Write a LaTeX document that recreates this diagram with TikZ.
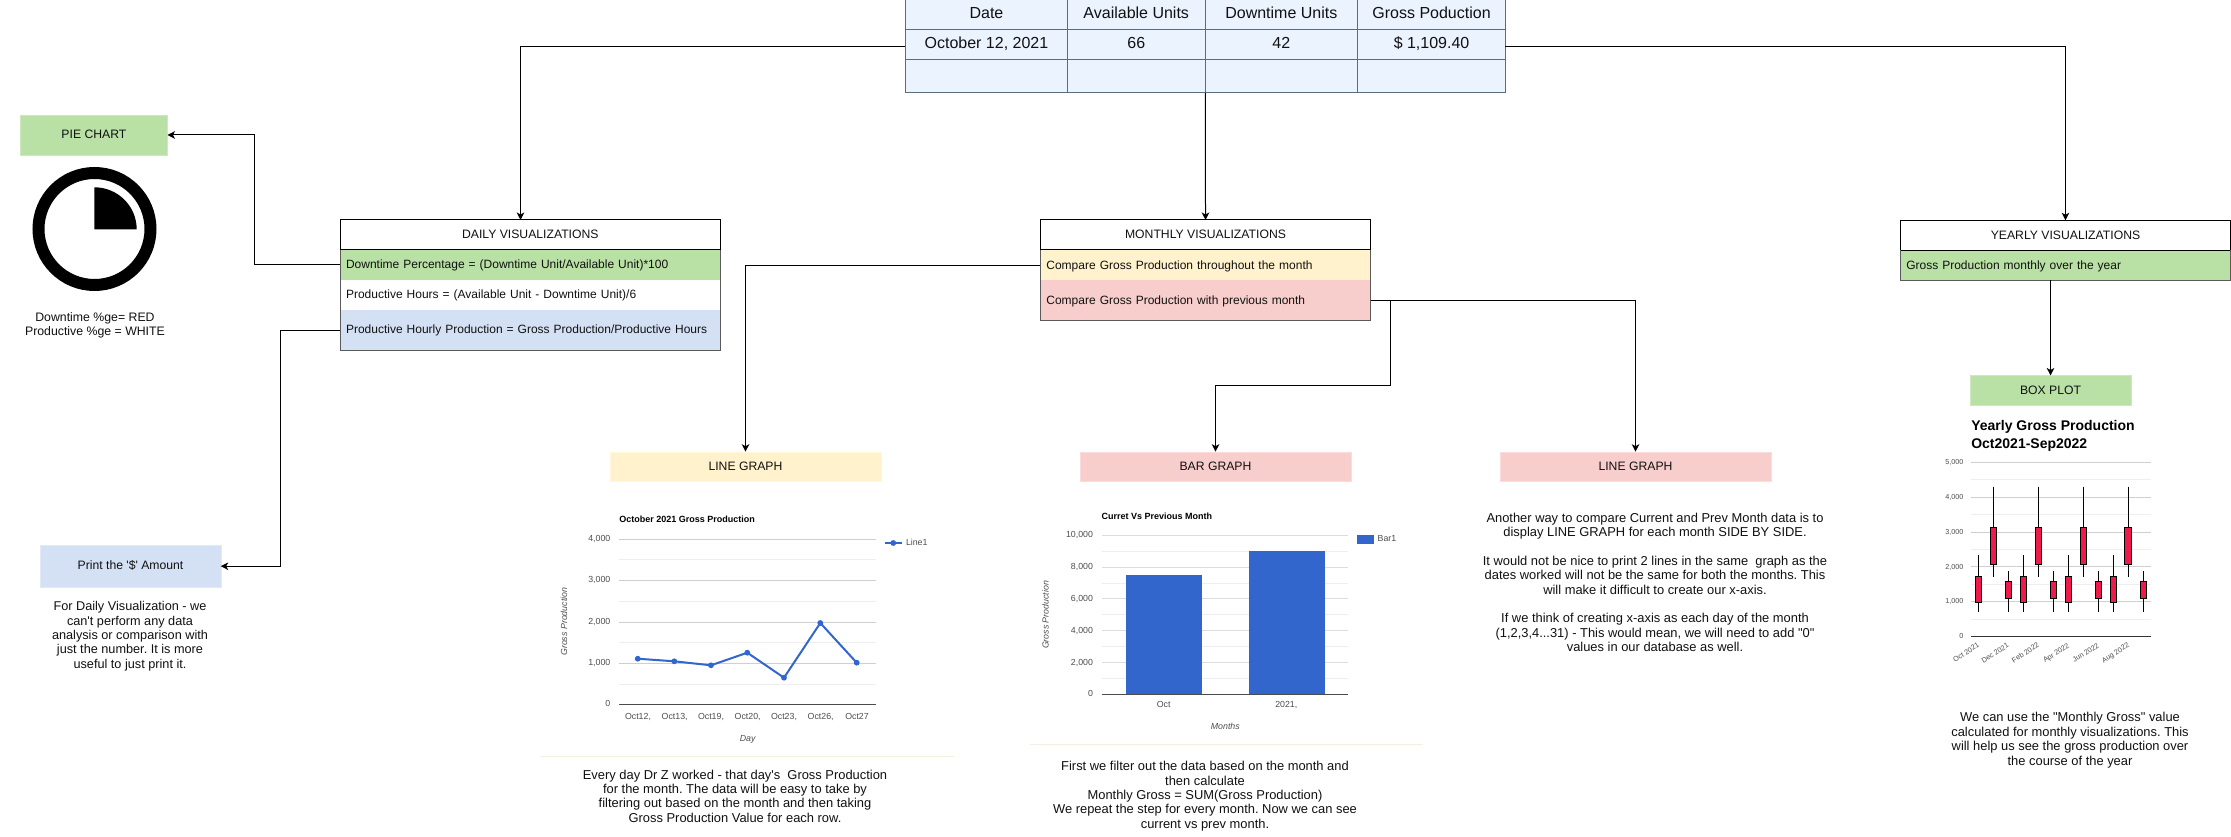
\documentclass[tikz,border=0pt]{standalone}
\usepackage{fontspec}
\setmainfont{Liberation Sans}[Ligatures=TeXOff]
\frenchspacing
\usetikzlibrary{arrows.meta}
\definecolor{txt}{HTML}{111111}
\definecolor{cellfill}{HTML}{EBF3FF}
\definecolor{cellline}{HTML}{5F6B7A}
\definecolor{gfill}{HTML}{B9E0A5}
\definecolor{yfill}{HTML}{FFF2CC}
\definecolor{rfill}{HTML}{F8CECC}
\definecolor{bfill}{HTML}{D4E1F5}
\definecolor{gridmaj}{HTML}{CFCFCF}
\definecolor{gridmin}{HTML}{EEEEEE}
\definecolor{axlab}{HTML}{4D4D4D}
\definecolor{gblue}{HTML}{3366CC}
\definecolor{candle}{HTML}{F01A4A}
\definecolor{sepline}{HTML}{F3F0E2}
\definecolor{rowline}{HTML}{5A5A5A}
\tikzset{
  every node/.style={inner sep=0pt,outer sep=0pt,text=txt},
  onel/.style={text height=0.85em,text depth=0.1em},
  axl/.style={text height=0.72em,text depth=0.2em},
  cell/.style={draw=cellline,fill=cellfill,line width=1pt,font=\fontsize{16}{19}\selectfont,text height=0.9em,text depth=0.1em,align=center},
  labelbox/.style={minimum width=270.4pt,minimum height=29.6pt,font=\fontsize{12.2}{14}\selectfont,onel},
  headbox/.style={draw=black,line width=1pt,fill=white,font=\fontsize{12.2}{14}\selectfont,onel},
  rowbox/.style={font=\fontsize{12}{14}\selectfont,onel,text width=#1,align=left,inner xsep=6pt},
  groupline/.style={draw=rowline,line width=1pt},
  note/.style={align=center,font=\fontsize{#1}{14.4}\selectfont},
  note/.default=12.9,
  conn/.style={draw=black,line width=1pt,-{Stealth[length=7.5pt,width=7.5pt,inset=2pt]}},
  axt/.style={text=axlab,font=\fontsize{8.8}{10}\selectfont,axl},
  axi/.style={text=axlab,font=\fontsize{8.8}{10}\selectfont\itshape,axl},
  cht/.style={font=\fontsize{9}{11}\selectfont\bfseries,anchor=west,axl,text=black},
  boxt/.style={text=axlab,font=\fontsize{7.2}{9}\selectfont,axl},
}
\begin{document}
\begin{tikzpicture}[x=1pt,y=-1pt]
\fill[white] (0,0) rectangle (2231,837);
\useasboundingbox (0,0) rectangle (2231,837);

% ---------- top table
\node[minimum width=600pt,minimum height=93pt] (tbl) at (1205.4,46.5) {};
\foreach \nm/\cx/\w/\aa/\bb in {a/986.45/162.1/Date/{October 12, 2021},b/1136.25/137.5/Available Units/66,c/1281.35/152.7/Downtime Units/42,d/1431.55/147.7/Gross Poduction/{\$ 1,109.40}}{
  \node[cell,minimum width=\w pt,minimum height=30pt] (\nm1) at (\cx,15) {\aa};
  \node[cell,minimum width=\w pt,minimum height=30pt] (\nm2) at (\cx,45) {\bb};
  \node[cell,minimum width=\w pt,minimum height=33pt] (\nm3) at (\cx,76.5) {};
}

% ---------- daily
\node[rowbox=368.6pt,fill=gfill,minimum height=30pt] (drow1) at (530.3,265) {Downtime Percentage = (Downtime Unit/Available Unit)*100};
\node[rowbox=368.6pt,fill=white,minimum height=30pt] (drow2) at (530.3,295) {Productive Hours = (Available Unit - Downtime Unit)/6};
\node[rowbox=368.6pt,fill=bfill,minimum height=40pt] (drow3) at (530.3,330) {Productive Hourly Production = Gross Production/Productive Hours};
\node[headbox,minimum width=380.6pt,minimum height=30pt] (dhead) at (530.3,235) {DAILY VISUALIZATIONS};
\draw[groupline] (dhead.south west) -- (drow3.south west) -- (drow3.south east) -- (dhead.south east);

% ---------- monthly
\node[rowbox=318.2pt,fill=yfill,minimum height=30pt] (mrow1) at (1205.5,265.3) {Compare Gross Production throughout the month};
\node[rowbox=318.2pt,fill=rfill,minimum height=40pt] (mrow2) at (1205.5,300.3) {Compare Gross Production with previous month};
\node[headbox,minimum width=330.2pt,minimum height=30pt] (mhead) at (1205.5,235) {MONTHLY VISUALIZATIONS};
\draw[groupline] (mhead.south west) -- (mrow2.south west) -- (mrow2.south east) -- (mhead.south east);

% ---------- yearly
\node[rowbox=318.4pt,fill=gfill,minimum height=30pt] (yrow) at (2065.5,265.3) {Gross Production monthly over the year};
\node[headbox,minimum width=330.4pt,minimum height=30pt] (yhead) at (2065.5,235.3) {YEARLY VISUALIZATIONS};
\draw[groupline] (yhead.south west) -- (yrow.south west) -- (yrow.south east) -- (yhead.south east);

% ---------- label boxes
\node[labelbox,fill=gfill,draw=gfill!70!white,minimum width=147.2pt,minimum height=40pt] (pie) at (93.9,135) {PIE CHART};
\node[labelbox,fill=bfill,draw=bfill!70!white,minimum width=180.4pt,minimum height=42.3pt] (print) at (130.5,566.2) {Print the '\$' Amount};
\node[labelbox,fill=yfill,draw=yfill!70!white] (lg1) at (745.5,466.5) {LINE GRAPH};
\node[labelbox,fill=rfill,draw=rfill!70!white] (bg) at (1215.5,466.5) {BAR GRAPH};
\node[labelbox,fill=rfill,draw=rfill!70!white] (lg2) at (1635.5,466.5) {LINE GRAPH};
\node[labelbox,fill=gfill,draw=gfill!70!white,minimum width=160.4pt] (boxp) at (2050.5,390.3) {BOX PLOT};

% ---------- connectors
\draw[conn] (tbl.west) -| ([xshift=-9.8pt]dhead.north);
\draw[conn] (tbl.south) -- (mhead.north);
\draw[conn] (tbl.east) -| (yhead.north);
\draw[conn] (drow1.west) -- ++(-86,0) |- (pie.east);
\draw[conn] (drow3.west) -- ++(-60,0) |- (print.east);
\draw[conn] (mrow1.west) -| (lg1.north);
\draw[conn] (mrow2.east) -- ++(19.6,0) -- ++(0,85.4) -| (bg.north);
\draw[conn] (mrow2.east) -| (lg2.north);
\draw[conn] (boxp.north |- yrow.south) -- (boxp.north);

% ---------- pie icon
\draw[black,line width=12pt] (94.5,229) circle[radius=56];
\fill[black] (94.4,229.3) -- (94.4,187.3) arc[start angle=90,end angle=0,x radius=42.3,y radius=-42] -- cycle;
\node[note=12.3] (piet) at (95,325.2) {Downtime \%ge= RED\\Productive \%ge = WHITE};

% ---------- print note
\node[note=12.7] (printt) at (130,636.2) {For Daily Visualization - we\\can't perform any data\\analysis or comparison with\\just the number. It is more\\useful to just print it.};

% ---------- line chart
\node[cht] (lct) at (619.3,519.7) {October 2021 Gross Production};
\foreach \yy in {559.3,601.7,642.3,684.3} \draw[gridmin,line width=1pt] (619.3,\yy) -- (875.7,\yy);
\foreach \yy in {539.3,580.3,622,663.3} \draw[gridmaj,line width=1pt] (619.3,\yy) -- (875.7,\yy);
\draw[black!70,line width=1pt] (619.3,704.3) -- (875.7,704.3);
\node[axt,anchor=east] (ly4) at (610.3,539) {4,000};
\node[axt,anchor=east] (ly3) at (610.3,580.3) {3,000};
\node[axt,anchor=east] (ly2) at (610.3,621.7) {2,000};
\node[axt,anchor=east] (ly1) at (610.3,663) {1,000};
\node[axt,anchor=east] (ly0) at (610.3,704.3) {0};
\node[axt] (lx1) at (638,716.5) {Oct12,};
\node[axt] (lx2) at (674.7,716.5) {Oct13,};
\node[axt] (lx3) at (711,716.5) {Oct19,};
\node[axt] (lx4) at (747.7,716.5) {Oct20,};
\node[axt] (lx5) at (784,716.5) {Oct23,};
\node[axt] (lx6) at (820.7,716.5) {Oct26,};
\node[axt] (lx7) at (857,716.5) {Oct27};
\node[axi] (lxa) at (747.7,738.5) {Day};
\node[axi,rotate=90] (lya) at (564.5,621.7) {Gross Production};
\draw[gblue,line width=2pt,line join=round] (637.7,658.7) -- (674.3,661.3) -- (711,665.3) -- (747.3,652.7) -- (784,677.7) -- (820.3,623) -- (856.7,662.7);
\foreach \px/\py in {637.7/658.7,674.3/661.3,711/665.3,747.3/652.7,784/677.7,820.3/623,856.7/662.7}
  \fill[gblue] (\px,\py) circle[radius=2.9];
\draw[gblue,line width=2pt] (884.7,543) -- (902.3,543);
\fill[gblue] (893.3,543) circle[radius=2.9];
\node[axt,anchor=west] (lleg) at (906,543) {Line1};
\draw[sepline,line width=1pt] (540,756.3) -- (954,756.3);
\node[note] (lnote) at (735,796) {Every day Dr Z worked - that day's\ \ Gross Production\\for the month. The data will be easy to take by\\filtering out based on the month and then taking\\Gross Production Value for each row.};

% ---------- bar chart
\node[cht] (bct) at (1101.7,516.8) {Curret Vs Previous Month};
\foreach \yy in {551.2,583.0,614.8,646.6,678.4} \draw[gridmin,line width=1pt] (1101.7,\yy) -- (1348.3,\yy);
\foreach \yy in {535.3,567.1,598.9,630.7,662.5} \draw[gridmaj!70!white,line width=1pt] (1101.7,\yy) -- (1348.3,\yy);
\draw[black!70,line width=1pt] (1101.7,694.3) -- (1348.3,694.3);
\node[axt,anchor=east] (by5) at (1093,535) {10,000};
\node[axt,anchor=east] (by4) at (1093,567) {8,000};
\node[axt,anchor=east] (by3) at (1093,598.7) {6,000};
\node[axt,anchor=east] (by2) at (1093,630.7) {4,000};
\node[axt,anchor=east] (by1) at (1093,662.7) {2,000};
\node[axt,anchor=east] (by0) at (1093,694.3) {0};
\fill[gblue] (1126,575.3) rectangle (1201.7,694);
\fill[gblue] (1249,551.3) rectangle (1324.7,694);
\node[axt] (bx1) at (1163.7,704.7) {Oct};
\node[axt] (bx2) at (1286.3,704.7) {2021,};
\node[axi] (bxa) at (1225.3,726.7) {Months};
\node[axi,rotate=90] (bya) at (1046,615) {Gross Production};
\fill[gblue] (1357,535) rectangle (1374.3,543.7);
\node[axt,anchor=west] (bleg) at (1377.7,538.7) {Bar1};
\draw[sepline,line width=1pt] (1030,744.3) -- (1422.7,744.3);
\node[note] (bnote) at (1205,796.2) {First we filter out the data based on the month and\\then calculate\\Monthly Gross = SUM(Gross Production)\\We repeat the step for every month. Now we can see\\current vs prev month.};

% ---------- line graph 2 note
\node[note] (l2note) at (1655,582.2) {Another way to compare Current and Prev Month data is to\\display LINE GRAPH for each month SIDE BY SIDE.\\[14.4pt]It would not be nice to print 2 lines in the same\ \ graph as the\\dates worked will not be the same for both the months. This\\will make it difficult to create our x-axis.\\[14.4pt]If we think of creating x-axis as each day of the month\\(1,2,3,4...31) - This would mean, we will need to add "0"\\values in our database as well.};

% ---------- box plot
\node[font=\fontsize{14}{18.6}\selectfont\bfseries,align=left,anchor=north west,text=black] (ytitle) at (1971.3,420) {Yearly Gross Production\\Oct2021-Sep2022};
\foreach \yy in {479.9,514.7,549.5,584.3,619.1} \draw[gridmin,line width=1pt] (1971,\yy) -- (2151,\yy);
\foreach \yy in {462.3,497.3,532,566.8,601.3} \draw[gridmaj,line width=1pt] (1971,\yy) -- (2151,\yy);
\draw[black!80,line width=1pt] (1971,636.3) -- (2151,636.3);
\node[boxt,anchor=east] (ey5) at (1963.3,462.3) {5,000};
\node[boxt,anchor=east] (ey4) at (1963.3,497.3) {4,000};
\node[boxt,anchor=east] (ey3) at (1963.3,532) {3,000};
\node[boxt,anchor=east] (ey2) at (1963.3,566.8) {2,000};
\node[boxt,anchor=east] (ey1) at (1963.3,601.3) {1,000};
\node[boxt,anchor=east] (ey0) at (1963.3,636.3) {0};
\foreach \cx in {1978.7,2023.7,2068.3,2113.3}{
  \draw[black,line width=1pt] (\cx,555.3) -- (\cx,611.7);
  \filldraw[fill=candle,draw=black,line width=1pt] (\cx-3.2,576.7) rectangle (\cx+3.2,602.3);
}
\foreach \cx in {1993.7,2038.3,2083.3,2128}{
  \draw[black,line width=1pt] (\cx,486.7) -- (\cx,576.7);
  \filldraw[fill=candle,draw=black,line width=1pt] (\cx-3.2,527.3) rectangle (\cx+3.2,564.3);
}
\foreach \cx in {2008.3,2053.7,2098.3,2143.3}{
  \draw[black,line width=1pt] (\cx,571) -- (\cx,611.7);
  \filldraw[fill=candle,draw=black,line width=1pt] (\cx-3.2,581.3) rectangle (\cx+3.2,598.7);
}
\node[boxt,rotate=33] (ex1) at (1966,652.3) {Oct 2021};
\node[boxt,rotate=33] (ex2) at (1995,653) {Dec 2021};
\node[boxt,rotate=33] (ex3) at (2025.3,652.7) {Feb 2022};
\node[boxt,rotate=33] (ex4) at (2056,652.7) {Apr 2022};
\node[boxt,rotate=33] (ex5) at (2085.7,652.7) {Jun 2022};
\node[boxt,rotate=33] (ex6) at (2115.3,652.7) {Aug 2022};
\node[note] (ynote) at (2070,740.2) {We can use the "Monthly Gross" value\\calculated for monthly visualizations. This\\will help us see the gross production over\\the course of the year};
\end{tikzpicture}
\end{document}
